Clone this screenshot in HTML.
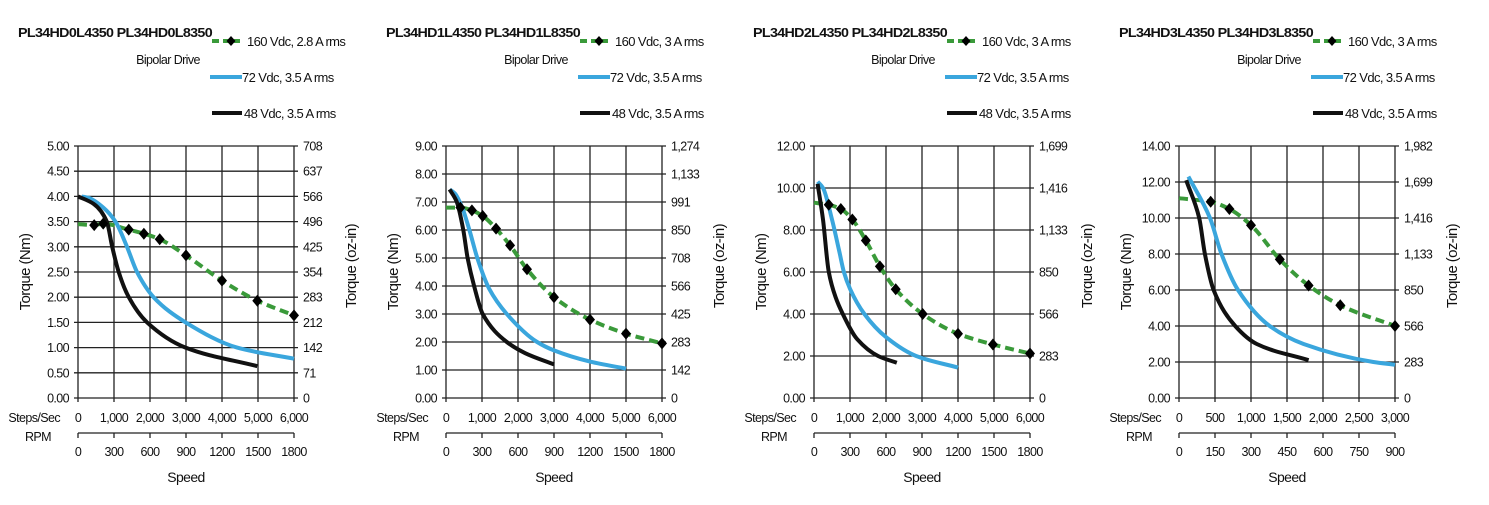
<!DOCTYPE html>
<html><head><meta charset="utf-8">
<style>
body{margin:0;background:#fff;width:1489px;height:500px;overflow:hidden;font-family:"Liberation Sans",Arial,sans-serif;}
svg text{font-family:"Liberation Sans",Arial,sans-serif;fill:#111;letter-spacing:-0.6px;}
</style></head>
<body>
<svg id="root" width="1489" height="500" xmlns="http://www.w3.org/2000/svg"></svg>
<script>
// ---- chart data (x in steps/sec, y in Nm) ----
const titles = ["PL34HD0L4350  PL34HD0L8350","PL34HD1L4350  PL34HD1L8350","PL34HD2L4350  PL34HD2L8350","PL34HD3L4350  PL34HD3L8350"];
const greenLabels = ["160 Vdc, 2.8 A rms","160 Vdc, 3 A rms","160 Vdc, 3 A rms","160 Vdc, 3 A rms"];
const blueLabel = "72 Vdc, 3.5 A rms";
const blackLabel = "48 Vdc, 3.5 A rms";
const yMax = [5, 9, 12, 14];
const yStep = [0.5, 1, 2, 2];
const xMax = [6000, 6000, 6000, 3000];
const stepTicks = [[0,1000,2000,3000,4000,5000,6000],[0,1000,2000,3000,4000,5000,6000],[0,1000,2000,3000,4000,5000,6000],[0,500,1000,1500,2000,2500,3000]];
const stepTickLabels = [["0","1,000","2,000","3,000","4,000","5,000","6,000"],["0","1,000","2,000","3,000","4,000","5,000","6,000"],["0","1,000","2,000","3,000","4,000","5,000","6,000"],["0","500","1,000","1,500","2,000","2,500","3,000"]];
const rpmTickLabels = [["0","300","600","900","1200","1500","1800"],["0","300","600","900","1200","1500","1800"],["0","300","600","900","1200","1500","1800"],["0","150","300","450","600","750","900"]];
const ozLabels = [["0","71","142","212","283","354","425","496","566","637","708"],["0","142","283","425","566","708","850","991","1,133","1,274"],["0","283","566","850","1,133","1,416","1,699"],["0","283","566","850","1,133","1,416","1,699","1,982"]];

const greenX = [[0,450,700,1410,1830,2270,3000,4000,4980,6000],[0,400,720,1020,1390,1780,2250,3000,4000,5000,6000],[0,410,745,1065,1440,1830,2270,3020,4000,4970,6000],[0,440,700,1000,1400,1800,2240,3000]];
const greenY = [[3.45,3.43,3.46,3.34,3.26,3.15,2.83,2.33,1.93,1.64],[6.8,6.8,6.7,6.5,6.05,5.45,4.6,3.6,2.8,2.3,1.95],[9.3,9.2,9.0,8.5,7.5,6.27,5.18,4.0,3.06,2.55,2.12],[11.1,10.9,10.5,9.6,7.7,6.25,5.15,4.0]];
const greenMarks = [[1,2,3,4,5,6,7,8,9],[1,2,3,4,5,6,7,8,9,10],[1,2,3,4,5,6,7,8,9,10],[1,2,3,4,5,6,7]];
const blueX = [[100,300,700,1040,1360,1640,2100,2990,4420,6000],[100,250,450,650,870,1200,1690,2530,3000,4000,5000],[100,250,500,700,830,1000,1400,2000,2840,4000],[130,430,590,820,1260,1730,2700,3000]];
const blueY = [[4.0,3.97,3.78,3.5,3.0,2.5,2.0,1.5,1.0,0.78],[7.45,7.3,6.8,6.0,5.0,3.9,3.0,2.0,1.7,1.3,1.05],[10.3,10.0,8.5,7.0,6.0,5.2,4.0,2.9,2.0,1.45],[12.3,10.0,8.0,6.0,4.0,3.0,2.0,1.85]];
const blackX = [[0,440,800,950,1130,1410,1920,2990,4980],[100,300,480,600,780,1020,1690,2200,3000],[100,250,410,600,800,1200,1780,2300],[100,280,360,480,780,1080,1800]];
const blackY = [[4.0,3.85,3.5,3.0,2.5,2.0,1.5,1.0,0.63],[7.45,7.0,6.0,5.0,4.0,3.0,2.0,1.6,1.2],[10.2,8.5,6.0,4.8,4.0,2.8,2.0,1.68],[12.1,10.0,8.0,6.0,4.0,3.0,2.1]];

const NS = "http://www.w3.org/2000/svg";
const root = document.getElementById('root');
function mk(tag, attrs, parent, text){
  const e = document.createElementNS(NS, tag);
  for (const k in attrs) e.setAttribute(k, attrs[k]);
  if (text !== undefined) e.textContent = text;
  (parent||root).appendChild(e);
  return e;
}
// monotone cubic (Fritsch-Carlson)
function smooth(pts){
  const n=pts.length, dx=[], dy=[], m=[], t=[];
  for(let i=0;i<n-1;i++){dx[i]=pts[i+1][0]-pts[i][0];dy[i]=pts[i+1][1]-pts[i][1];m[i]=dy[i]/dx[i];}
  t[0]=m[0]; t[n-1]=m[n-2];
  for(let i=1;i<n-1;i++){ if(m[i-1]*m[i]<=0) t[i]=0; else { const w1=2*dx[i]+dx[i-1], w2=dx[i]+2*dx[i-1]; t[i]=(w1+w2)/(w1/m[i-1]+w2/m[i]); } }
  let d="M"+pts[0][0].toFixed(1)+","+pts[0][1].toFixed(1);
  for(let i=0;i<n-1;i++){
    const h=dx[i]/3;
    d+=" C"+(pts[i][0]+h).toFixed(1)+","+(pts[i][1]+t[i]*h).toFixed(1)+" "+(pts[i+1][0]-h).toFixed(1)+","+(pts[i+1][1]-t[i+1]*h).toFixed(1)+" "+pts[i+1][0].toFixed(1)+","+pts[i+1][1].toFixed(1);
  }
  return d;
}
const plotLefts = [78, 446, 814, 1179];
const titleX = [18, 386, 753, 1119];
for (let c=0;c<4;c++){
  const L=plotLefts[c], R=L+216, T=146, B=398;
  const g = mk('g',{});
  
  
  const xs = v => L + v/xMax[c]*(R-L);
  const ys = v => B - v/yMax[c]*(B-T);
  const tx = titleX[c];
  let t = mk('text',{x:tx,y:37,'font-size':13,'font-weight':'bold','textLength':194,'lengthAdjust':'spacingAndGlyphs'},g,titles[c]);
   
  t = mk('text',{x:tx+150,y:64,'font-size':12.5,'text-anchor':'middle'},g,'Bipolar Drive');
   
  let lg = mk('g',{},g);
   
  mk('line',{x1:tx+194,y1:41,x2:tx+222,y2:41,stroke:'#3a9a3a','stroke-width':4,'stroke-dasharray':'7,4'},lg);
  mk('path',{d:`M${tx+213},36 l4.5,5 -4.5,5 -4.5,-5z`,fill:'#000'},lg);
  t = mk('text',{x:tx+229,y:46,'font-size':13},lg,greenLabels[c]);
   
  mk('line',{x1:tx+192,y1:77,x2:tx+224,y2:77,stroke:'#3aa6dd','stroke-width':4},lg);
  t = mk('text',{x:tx+224,y:82,'font-size':13},lg,blueLabel);
   
  mk('line',{x1:tx+194,y1:113,x2:tx+224,y2:113,stroke:'#111','stroke-width':4},lg);
  t = mk('text',{x:tx+226,y:118,'font-size':13},lg,blackLabel);
   
  const ny = Math.round(yMax[c]/yStep[c]);
  for (let i=0;i<=ny;i++){
    const v=i*yStep[c], y=ys(v);
    mk('line',{x1:L-4,y1:y,x2:R+4,y2:y,stroke:'#222','stroke-width':1.3},g);
    t = mk('text',{x:L-9,y:y+4.5,'font-size':12.5,'text-anchor':'end'},g,v.toFixed(2));
     
    t = mk('text',{x:R+9,y:y+4.5,'font-size':12.5},g,ozLabels[c][i]);
     
  }
  stepTicks[c].forEach((v,i)=>{
    const x=xs(v);
    mk('line',{x1:x,y1:T,x2:x,y2:B+4,stroke:'#222','stroke-width':1.3},g);
    t = mk('text',{x:x,y:422,'font-size':12.5,'text-anchor':'middle'},g,stepTickLabels[c][i]);
     
    mk('line',{x1:x,y1:433,x2:x,y2:438,stroke:'#222','stroke-width':1.3},g);
    t = mk('text',{x:x,y:456,'font-size':12.5,'text-anchor':'middle'},g,rpmTickLabels[c][i]);
     
  });
  mk('line',{x1:L,y1:433,x2:R,y2:433,stroke:'#222','stroke-width':1.3},g);
  t = mk('text',{x:L-18,y:422,'font-size':12.5,'text-anchor':'end'},g,'Steps/Sec');
   
  t = mk('text',{x:L-40,y:441,'font-size':12.5,'text-anchor':'middle'},g,'RPM');
   
  t = mk('text',{x:(L+R)/2,y:482,'font-size':14,'text-anchor':'middle'},g,'Speed');
   
  t = mk('text',{x:0,y:0,'font-size':15,'text-anchor':'middle',transform:`translate(${L-48},${(T+B)/2}) rotate(-90)`},g,'Torque (Nm)');
   
  t = mk('text',{x:0,y:0,'font-size':15,'text-anchor':'middle',transform:`translate(${R+62},${(T+B)/2-6}) rotate(-90)`},g,'Torque (oz-in)');
   
  let p = mk('path',{d:smooth(greenX[c].map((v,i)=>[xs(v),ys(greenY[c][i])])),fill:'none',stroke:'#3a9a3a','stroke-width':4,'stroke-dasharray':'9,5'},g);
   
  p = mk('path',{d:smooth(blueX[c].map((v,i)=>[xs(v),ys(blueY[c][i])])),fill:'none',stroke:'#3aa6dd','stroke-width':4},g);
   
  p = mk('path',{d:smooth(blackX[c].map((v,i)=>[xs(v),ys(blackY[c][i])])),fill:'none',stroke:'#111','stroke-width':4},g);
   
  greenMarks[c].forEach(i=>{
    const x=xs(greenX[c][i]), y=ys(greenY[c][i]);
    const m = mk('path',{d:`M${x},${y-6} l5,6 -5,6 -5,-6z`,fill:'#000'},g);
     
  });
}
</script>
</body></html>
